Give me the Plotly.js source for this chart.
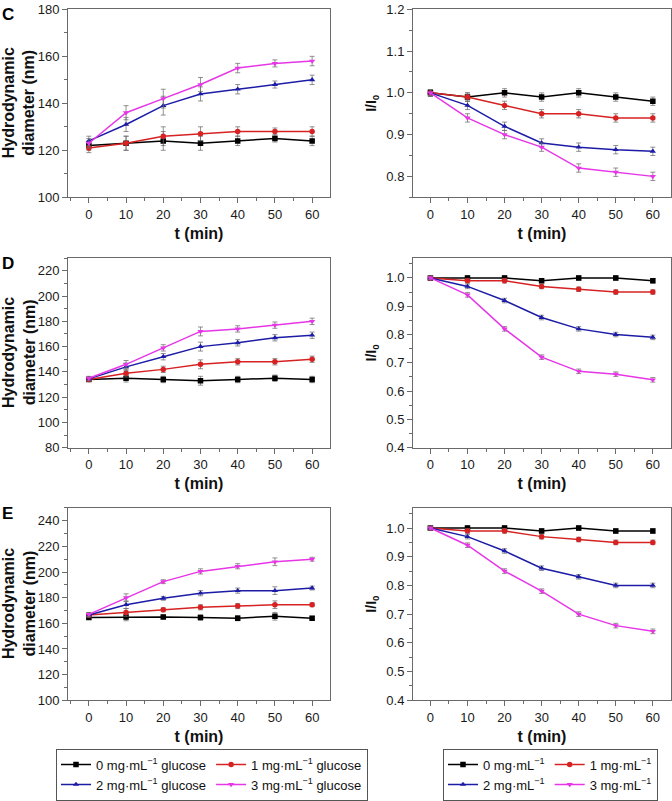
<!DOCTYPE html>
<html>
<head>
<meta charset="utf-8">
<script src="https://cdn.plot.ly/plotly-3.0.1.min.js"></script>
<style>html,body{margin:0;padding:0;background:#fff;}#chart{width:672px;height:801px;}</style>
</head>
<body>
<div id="chart"></div>
<script>
// ---- data ----
const t = [0, 10, 20, 30, 40, 50, 60];

// Panel C
const C_size_0 = [122, 123, 124, 123, 124, 125, 124];
const C_size_1 = [121, 123, 126, 127, 128, 128, 128];
const C_size_2 = [124, 131, 139, 144, 146, 148, 150];
const C_size_3 = [123, 136, 142, 148, 155, 157, 158];
const C_size_err = [2, 3, 4, 3, 2, 1.5, 2];
const C_int_0 = [1.00, 0.99, 1.00, 0.99, 1.00, 0.99, 0.98];
const C_int_1 = [1.00, 0.99, 0.97, 0.95, 0.95, 0.94, 0.94];
const C_int_2 = [1.00, 0.97, 0.92, 0.88, 0.87, 0.864, 0.86];
const C_int_3 = [1.00, 0.94, 0.90, 0.87, 0.82, 0.81, 0.80];
const C_int_err = [0.008, 0.01, 0.01, 0.01, 0.01, 0.01, 0.01];

// Panel D
const D_size_0 = [134, 135, 134, 133, 134, 135, 134];
const D_size_1 = [134, 139, 142, 146, 148, 148, 150];
const D_size_2 = [134.5, 144, 152, 160, 163, 167, 169];
const D_size_3 = [135, 146, 159, 172, 174, 177, 180];
const D_size_err = [1.5, 3, 2.5, 3.5, 2.5, 2.5, 2.5];
const D_int_0 = [1.00, 1.00, 1.00, 0.99, 1.00, 1.00, 0.99];
const D_int_1 = [1.00, 0.99, 0.99, 0.97, 0.96, 0.95, 0.95];
const D_int_2 = [1.00, 0.97, 0.92, 0.86, 0.82, 0.80, 0.79];
const D_int_3 = [1.00, 0.94, 0.82, 0.72, 0.67, 0.66, 0.64];
const D_int_err = [0.006, 0.008, 0.008, 0.008, 0.008, 0.008, 0.008];

// Panel E
const E_size_0 = [164.5, 165, 165, 164.5, 164, 165.5, 164];
const E_size_1 = [166.5, 168.5, 170.5, 172.5, 173.5, 174.5, 174.5];
const E_size_2 = [166.5, 174.5, 179.5, 183.5, 185.5, 185.5, 187.5];
const E_size_3 = [167, 180, 192.5, 200.5, 204.5, 208, 210];
const E_size_err = [1.5, 3, 1.5, 2, 2, 3, 1.5];
const E_int_0 = [1.00, 1.00, 1.00, 0.99, 1.00, 0.99, 0.99];
const E_int_1 = [1.00, 0.99, 0.99, 0.97, 0.96, 0.95, 0.95];
const E_int_2 = [1.00, 0.97, 0.92, 0.86, 0.83, 0.80, 0.80];
const E_int_3 = [1.00, 0.94, 0.85, 0.78, 0.70, 0.66, 0.64];
const E_int_err = [0.006, 0.008, 0.008, 0.008, 0.008, 0.008, 0.008];

const namesGlucose = ['0 mg·mL<sup>−1</sup> glucose', '1 mg·mL<sup>−1</sup> glucose',
                      '2 mg·mL<sup>−1</sup> glucose', '3 mg·mL<sup>−1</sup> glucose'];
const namesShort = ['0 mg·mL<sup>−1</sup>', '1 mg·mL<sup>−1</sup>',
                    '2 mg·mL<sup>−1</sup>', '3 mg·mL<sup>−1</sup>'];
const panelLabels = ['C', 'D', 'E'];
const sizeTitle = '<b>Hydrodynamic<br>diameter (nm)</b>';

// ---- styles ----
const colors = ['#000000', '#d62222', '#1c1ca6', '#e636e6'];
const symbols = ['square', 'circle', 'triangle-up', 'triangle-down'];
const groups = ['a', 'b', 'a', 'b'];

const panels = [
  {sizes: [C_size_0, C_size_1, C_size_2, C_size_3], sErr: C_size_err,
   ints: [C_int_0, C_int_1, C_int_2, C_int_3], iErr: C_int_err},
  {sizes: [D_size_0, D_size_1, D_size_2, D_size_3], sErr: D_size_err,
   ints: [D_int_0, D_int_1, D_int_2, D_int_3], iErr: D_int_err},
  {sizes: [E_size_0, E_size_1, E_size_2, E_size_3], sErr: E_size_err,
   ints: [E_int_0, E_int_1, E_int_2, E_int_3], iErr: E_int_err}
];

const W = 672, H = 801;
const leftX = [68 / W, 330 / W];
const rightX = [413 / W, 671 / W];
const rowsY = [[9.5, 200], [261.7, 454], [515, 710]].map(r => [1 - r[1] / H, 1 - r[0] / H]);
const sizeRanges = [[100, 180], [80, 230], [100, 250]];
const sizeTicks = [[100, 120, 140, 160, 180], [80, 100, 120, 140, 160, 180, 200, 220],
                   [100, 120, 140, 160, 180, 200, 220, 240]];
const intRanges = [[0.75, 1.2], [0.4, 1.07], [0.4, 1.07]];

const FONT = 'Arial, "Liberation Sans", Helvetica, sans-serif';
const frameCol = '#6a6a6a';

function xAxis(domain, range, anchor) {
  return {
    domain: domain, range: range, anchor: anchor,
    tick0: 0, dtick: 10, ticks: 'outside', ticklen: 5, tickwidth: 1, tickcolor: frameCol,
    minor: {ticks: 'outside', dtick: 5, tick0: 0, ticklen: 3, tickwidth: 1, tickcolor: frameCol, showgrid: false},
    showline: true, linecolor: frameCol, linewidth: 1, mirror: true,
    showgrid: false, zeroline: false,
    tickfont: {family: FONT, size: 13, color: '#1a1a1a'},
    title: {text: '<b>t (min)</b>', font: {family: FONT, size: 16, color: '#111'}, standoff: 6}
  };
}
function yAxis(domain, range, anchor, opts) {
  return Object.assign({
    domain: domain, range: range, anchor: anchor,
    ticks: 'outside', ticklen: 5, tickwidth: 1, tickcolor: frameCol,
    showline: true, linecolor: frameCol, linewidth: 1, mirror: true,
    showgrid: false, zeroline: false,
    tickfont: {family: FONT, size: 13, color: '#1a1a1a'}
  }, opts);
}

const data = [];
const layout = {
  width: W, height: H, autosize: false,
  margin: {l: 0, r: 0, t: 0, b: 0},
  paper_bgcolor: '#ffffff', plot_bgcolor: '#ffffff',
  font: {family: FONT, color: '#111'},
  showlegend: true,
  annotations: [],
  legend: {
    x: 56 / W, y: 1 - 759 / H, xanchor: 'left', yanchor: 'top',
    orientation: 'h', traceorder: 'grouped', tracegroupgap: 0, itemwidth: 30,
    bordercolor: '#555', borderwidth: 1, bgcolor: '#fff',
    font: {family: FONT, size: 13, color: '#111'}
  },
  legend2: {
    x: 443 / W, y: 1 - 759 / H, xanchor: 'left', yanchor: 'top',
    orientation: 'h', traceorder: 'grouped', tracegroupgap: 0, itemwidth: 30,
    bordercolor: '#555', borderwidth: 1, bgcolor: '#fff',
    font: {family: FONT, size: 13, color: '#111'}
  }
};

panels.forEach((p, r) => {
  const xa = 2 * r + 1, xb = 2 * r + 2;
  const xl = 'x' + (xa === 1 ? '' : xa), yl = 'y' + (xa === 1 ? '' : xa);
  const xr = 'x' + xb, yr = 'y' + xb;
  layout['xaxis' + (xa === 1 ? '' : xa)] = xAxis(leftX, [-5.6, 64.8], yl);
  layout['yaxis' + (xa === 1 ? '' : xa)] = yAxis(rowsY[r], sizeRanges[r], xl, {
    tickvals: sizeTicks[r],
    minor: {ticks: 'outside', dtick: 10, tick0: 0, ticklen: 3, tickwidth: 1, tickcolor: frameCol, showgrid: false}
  });
  layout['xaxis' + xb] = xAxis(rightX, [-4.7, 64.9], yr);
  layout['yaxis' + xb] = yAxis(rowsY[r], intRanges[r], xr, {
    tick0: 0, dtick: 0.1, tickformat: '.1f',
    minor: {ticks: 'outside', dtick: 0.05, tick0: 0, ticklen: 3, tickwidth: 1, tickcolor: frameCol, showgrid: false},
    title: {text: '<b>I/I<sub>0</sub></b>', font: {family: FONT, size: 14, color: '#111'}, standoff: 6}
  });

  for (let k = 0; k < 4; k++) {
    data.push({
      type: 'scatter', mode: 'lines+markers', x: t, y: p.sizes[k],
      xaxis: xl, yaxis: yl,
      name: namesGlucose[k], legend: 'legend', legendgroup: groups[k],
      showlegend: r === 0,
      line: {color: colors[k], width: 1.5},
      marker: {symbol: symbols[k], size: 5.5, color: colors[k]},
      error_y: {type: 'data', array: p.sErr, visible: true, color: 'rgba(110,110,110,0.75)', thickness: 1, width: 2.5}
    });
  }
  for (let k = 0; k < 4; k++) {
    data.push({
      type: 'scatter', mode: 'lines+markers', x: t, y: p.ints[k],
      xaxis: xr, yaxis: yr,
      name: namesShort[k], legend: 'legend2', legendgroup: groups[k] + '2',
      showlegend: r === 0,
      line: {color: colors[k], width: 1.5},
      marker: {symbol: symbols[k], size: 5.5, color: colors[k]},
      error_y: {type: 'data', array: p.iErr, visible: true, color: 'rgba(110,110,110,0.75)', thickness: 1, width: 2.5}
    });
  }
  // panel letter
  layout.annotations.push({
    text: '<b>' + panelLabels[r] + '</b>', xref: 'paper', yref: 'paper',
    x: 0, y: rowsY[r][1] + 6 / H, xanchor: 'left', yanchor: 'top', showarrow: false,
    font: {family: FONT, size: 17, color: '#000'}
  });
  // size-axis title (two lines, rotated)
  layout.annotations.push({
    text: sizeTitle, xref: 'paper', yref: 'paper', textangle: -90,
    x: 19 / W, y: (rowsY[r][0] + rowsY[r][1]) / 2, xanchor: 'center', yanchor: 'middle',
    showarrow: false, font: {family: FONT, size: 16, color: '#111'}
  });
});

Plotly.newPlot('chart', data, layout, {displayModeBar: false, staticPlot: true});
</script>
</body>
</html>
